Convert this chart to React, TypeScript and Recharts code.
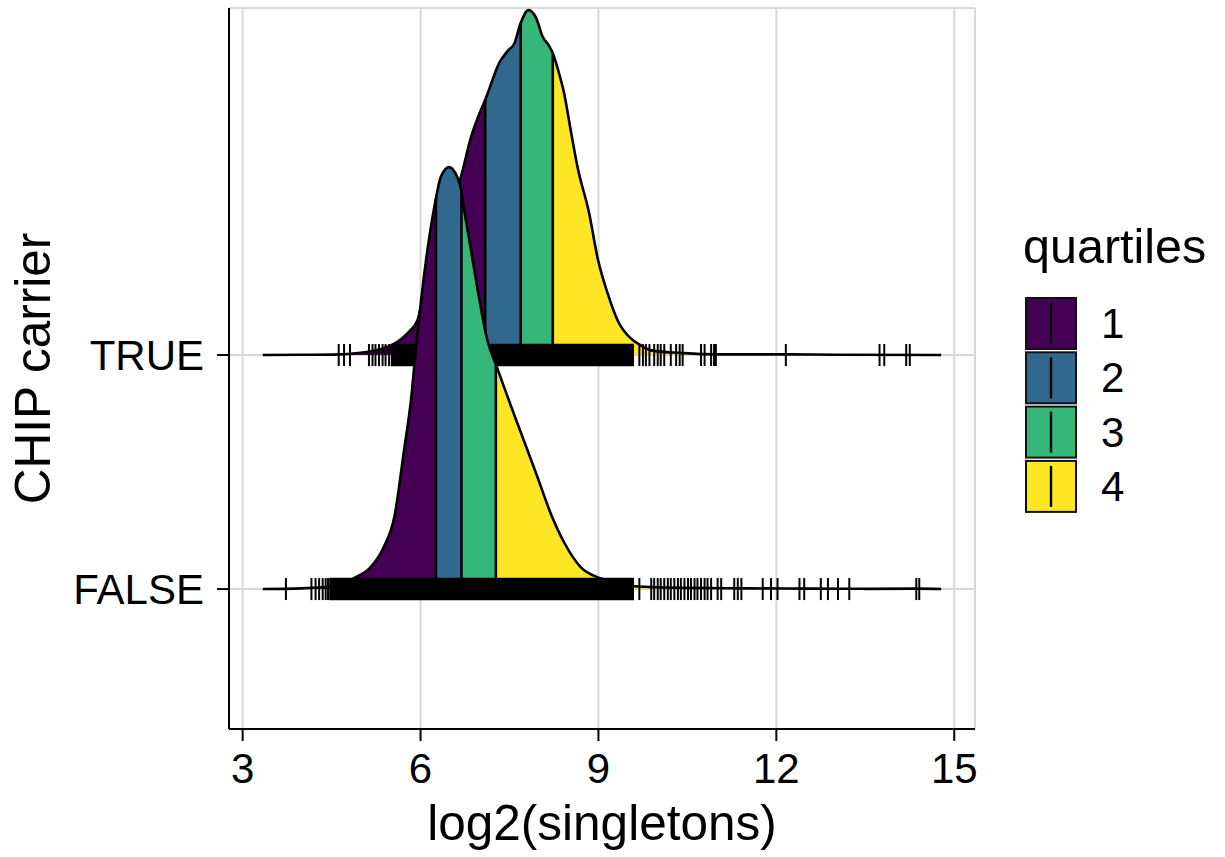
import { ComposedChart, Area, Line, Scatter, XAxis, YAxis, CartesianGrid, Legend, Label } from "recharts";

const FONT = "'Liberation Sans', Arial, Helvetica, sans-serif";

// rows on the y axis (bottom to top)
const rowNames = ["FALSE", "TRUE"];
const xTicks = [3, 6, 9, 12, 15];

const quartileLabels = ["1", "2", "3", "4"];
const quartileColors = ["#440154", "#31688E", "#35B779", "#FDE725"];

// ridge heights, in units of the row spacing
const trueX = [3.34, 4.0, 4.54, 4.99, 5.38, 5.61, 5.78, 5.95, 6.03, 6.2, 6.4, 6.68, 6.85, 6.99, 7.09, 7.33, 7.47, 7.58, 7.69, 7.82, 7.95, 8.06, 8.17, 8.23, 8.34, 8.42, 8.54, 8.65, 8.84, 8.99, 9.16, 9.32, 9.55, 9.66, 9.89, 10.44, 11.0, 12.16, 13.0, 14.78];
const trueH = [0, 0.001, 0.002, 0.01, 0.029, 0.057, 0.093, 0.15, 0.235, 0.39, 0.55, 0.76, 0.93, 1.03, 1.09, 1.25, 1.3, 1.33, 1.42, 1.474, 1.44, 1.36, 1.32, 1.29, 1.2, 1.12, 0.95, 0.8, 0.61, 0.41, 0.26, 0.15, 0.07, 0.05, 0.02, 0.008, 0.003, 0.003, 0.001, 0];

const falseX = [3.34, 4.0, 4.6, 4.88, 5.16, 5.38, 5.56, 5.72, 5.84, 5.92, 6.09, 6.23, 6.26, 6.34, 6.48, 6.62, 6.69, 6.73, 6.85, 6.99, 7.13, 7.27, 7.47, 7.69, 7.97, 8.2, 8.42, 8.7, 8.99, 9.21, 9.6, 10.5, 11.5, 12.5, 13.5, 14.4, 14.78];
const falseH = [0, 0.003, 0.015, 0.047, 0.094, 0.18, 0.31, 0.59, 0.81, 1.02, 1.4, 1.63, 1.67, 1.76, 1.803, 1.76, 1.7, 1.63, 1.45, 1.24, 1.06, 0.96, 0.82, 0.67, 0.48, 0.32, 0.2, 0.094, 0.05, 0.035, 0.012, 0.005, 0.003, 0.002, 0.001, 0.002, 0];

const trueQuartiles = [7.09, 7.69, 8.23];
const falseQuartiles = [6.26, 6.69, 7.27];

// rug: single ticks, plus the span where ticks merge into a solid bar
const trueRug = [4.62, 4.71, 4.81, 5.13, 5.19, 5.24, 5.3, 5.36, 5.41, 5.47, 9.69, 9.75, 9.8, 9.86, 9.94, 10.0, 10.05, 10.11, 10.22, 10.31, 10.37, 10.42, 10.73, 10.79, 10.9, 10.95, 10.98, 12.16, 13.74, 13.82, 14.19, 14.25];
const trueRugDense = [5.5, 9.6];
const falseRug = [3.73, 4.16, 4.23, 4.29, 4.35, 4.4, 4.44, 9.69, 9.89, 9.94, 10.0, 10.05, 10.11, 10.17, 10.22, 10.28, 10.34, 10.39, 10.45, 10.51, 10.56, 10.62, 10.67, 10.73, 10.79, 10.84, 10.9, 11.01, 11.07, 11.29, 11.35, 11.41, 11.77, 11.91, 12.02, 12.39, 12.47, 12.75, 12.87, 13.04, 13.23, 14.36, 14.41];
const falseRugDense = [4.46, 9.6];

const RUG_HALF = 0.048; // half height of a rug tick, in row units
const TICK_PX = 11;

function RugTick(props: any) {
  const { cx, cy } = props;
  return <line x1={cx} x2={cx} y1={cy - TICK_PX} y2={cy + TICK_PX} stroke="#000" strokeWidth={2} />;
}

function ridge(name: string, xs: number[], hs: number[], quartiles: number[], rug: number[], dense: number[], z: number) {
  const base = rowNames.indexOf(name) + 1;
  const pts = xs.map((x, i) => ({ x, h: hs[i] }));
  const cuts = [-Infinity, ...quartiles, Infinity];
  const items: any[] = [];

  for (let i = 0; i < 4; i++) {
    const seg = pts
      .filter((p) => p.x >= cuts[i] && p.x <= cuts[i + 1])
      .map((p) => ({ x: p.x, y: [base, base + p.h] }));
    items.push(
      <Area key={`${name}-fill-${i}`} data={seg} dataKey="y" type="monotone" fill={quartileColors[i]} fillOpacity={1}
        stroke="none" isAnimationActive={false} activeDot={false} zIndex={z + i} />
    );
  }

  items.push(
    <Line key={`${name}-outline`} data={pts.map((p) => ({ x: p.x, y: base + p.h }))} dataKey="y" type="monotone"
      stroke="#000" strokeWidth={2.6} dot={false} activeDot={false} isAnimationActive={false} zIndex={z + 4} />
  );

  quartiles.forEach((q, i) => {
    const h = pts.find((p) => p.x === q)!.h;
    items.push(
      <Line key={`${name}-qline-${i}`} data={[{ x: q, y: base }, { x: q, y: base + h }]} dataKey="y" type="linear"
        stroke="#000" strokeWidth={2.6} dot={false} activeDot={false} isAnimationActive={false} zIndex={z + 5} />
    );
  });

  items.push(
    <Area key={`${name}-rugband`} data={dense.map((x) => ({ x, y: [base - RUG_HALF, base + RUG_HALF] }))} dataKey="y"
      type="linear" fill="#000" fillOpacity={1} stroke="none" isAnimationActive={false} activeDot={false} zIndex={z + 6} />
  );
  items.push(
    <Scatter key={`${name}-rug`} data={rug.map((x) => ({ x, y: base }))} shape={RugTick} isAnimationActive={false} zIndex={z + 7} />
  );
  return items;
}

function QuartileLegend() {
  return (
    <svg width={212} height={310} style={{ display: "block", overflow: "visible" }}>
      <text x={23} y={43} fontSize={48.5} fontFamily={FONT} fill="#000">quartiles</text>
      {quartileLabels.map((label, i) => {
        const top = 77 + i * 54.3;
        return (
          <g key={label}>
            <rect x={26} y={top + 1} width={50} height={51} fill={quartileColors[i]} stroke="#111" strokeWidth={2} />
            <line x1={51} x2={51} y1={top + 6} y2={top + 47} stroke="#000" strokeWidth={2.4} />
            <text x={101} y={top + 41} fontSize={42} fontFamily={FONT} fill="#000">{label}</text>
          </g>
        );
      })}
    </svg>
  );
}

export default function App() {
  const tickStyle = { fontSize: 42, fill: "#000", fontFamily: FONT };
  return (
    <div style={{ position: "absolute", left: 0, top: 0 }}>
      <ComposedChart width={1225} height={857} margin={{ top: 8, right: 250, bottom: 0, left: 0 }}>
        <CartesianGrid stroke="#d9d9d9" strokeWidth={2} />
        <XAxis type="number" dataKey="x" domain={[2.77, 15.35]} ticks={xTicks} allowDataOverflow height={128}
          tickSize={12} tickMargin={12} tick={tickStyle} interval={0}
          axisLine={{ stroke: "#000", strokeWidth: 2 }} tickLine={{ stroke: "#000", strokeWidth: 2 }}>
          <Label content={({ viewBox }: any) => (
            <text x={viewBox.x + viewBox.width / 2} y={viewBox.y + 111} textAnchor="middle" fontSize={49.5}
              fontFamily={FONT} fill="#000">log2(singletons)</text>
          )} />
        </XAxis>
        <YAxis type="number" dataKey="y" domain={[0.402, 3.483]} ticks={[1, 2]} allowDataOverflow width={229}
          tickSize={12} tickMargin={13} tick={tickStyle} interval={0}
          tickFormatter={(v: number) => rowNames[v - 1]}
          axisLine={{ stroke: "#000", strokeWidth: 2 }} tickLine={{ stroke: "#000", strokeWidth: 2 }}>
          <Label content={({ viewBox }: any) => {
            const cx = viewBox.x + 50;
            const cy = viewBox.y + viewBox.height / 2;
            return (
              <text x={cx} y={cy} transform={`rotate(-90 ${cx} ${cy})`} textAnchor="middle" fontSize={49.5}
                fontFamily={FONT} fill="#000">CHIP carrier</text>
            );
          }} />
        </YAxis>
        <Legend layout="vertical" align="center" verticalAlign="middle" content={() => <QuartileLegend />}
          wrapperStyle={{ position: "absolute", left: 1000, top: 220, width: 212 }} />
        {ridge("TRUE", trueX, trueH, trueQuartiles, trueRug, trueRugDense, 100)}
        {ridge("FALSE", falseX, falseH, falseQuartiles, falseRug, falseRugDense, 110)}
      </ComposedChart>
    </div>
  );
}
